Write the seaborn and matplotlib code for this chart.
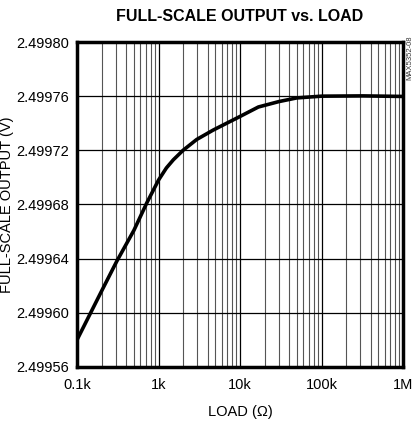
import matplotlib
matplotlib.use("Agg")
import matplotlib.pyplot as plt
import seaborn as sns
import pandas as pd
import numpy as np
from matplotlib.ticker import LogLocator, NullFormatter

sns.set_theme(style="white")
plt.rcParams['font.family'] = ['Liberation Sans Narrow', 'Liberation Sans', 'DejaVu Sans']

load_ohm = [100, 200, 307, 500, 716, 1000, 1250, 1520, 2000, 2940, 4700, 10000, 16800,
            30000, 49600, 100000, 324000, 1000000]
vout = [2.499580, 2.499616, 2.499638, 2.499661, 2.499681, 2.499698, 2.499707, 2.499713,
        2.499720, 2.499728, 2.499735, 2.499745, 2.499752, 2.499756, 2.4997587,
        2.4997600, 2.4997602, 2.4997598]
xticks = [100, 1000, 10000, 100000, 1000000]
xticklabels = ["0.1k", "1k", "10k", "100k", "1M"]
yticks = [2.49956, 2.49960, 2.49964, 2.49968, 2.49972, 2.49976, 2.49980]
yticklabels = ["2.49956", "2.49960", "2.49964", "2.49968", "2.49972", "2.49976", "2.49980"]

df = pd.DataFrame({"load": load_ohm, "vout": vout})

fig = plt.figure(figsize=(4.17, 4.32), dpi=100)
ax = fig.add_axes([77/417, 1 - 367/432, 326/417, 325/432])
ax.set_xscale("log")
sns.lineplot(data=df, x="load", y="vout", ax=ax, color="black", linewidth=2.6)

ax.set_xlim(100, 1000000)
ax.set_ylim(2.49956, 2.49980)
ax.set_xticks(xticks)
ax.set_xticklabels(xticklabels)
ax.xaxis.set_minor_locator(LogLocator(base=10, subs=np.arange(2, 10)))
ax.xaxis.set_minor_formatter(NullFormatter())
ax.set_yticks(yticks)
ax.set_yticklabels(yticklabels)

ax.grid(True, which="major", axis="both", color="black", linewidth=0.9)
ax.grid(True, which="minor", axis="x", color="#555555", linewidth=0.8)
ax.tick_params(axis="x", which="both", length=0, labelsize=10.5, colors="black", pad=8)
ax.tick_params(axis="y", which="both", length=0, labelsize=10.5, colors="black", pad=6)
for s in ax.spines.values():
    s.set_linewidth(2.5)
    s.set_color("black")

ax.set_xlabel("LOAD (Ω)", fontsize=10.5, color="black", labelpad=9)
ax.set_ylabel("FULL-SCALE OUTPUT (V)", fontsize=10.5, color="black")
ax.yaxis.set_label_coords(-63/326, 0.5)
ax.set_title("FULL-SCALE OUTPUT vs. LOAD", fontsize=11.5, fontweight="bold", color="black", pad=15)

fig.text(410/417, 1 - 58/432, "MAX5352-08", rotation=90, fontsize=5.5, color="#333333",
         ha="center", va="center")

fig.savefig("out.png", dpi=100)
